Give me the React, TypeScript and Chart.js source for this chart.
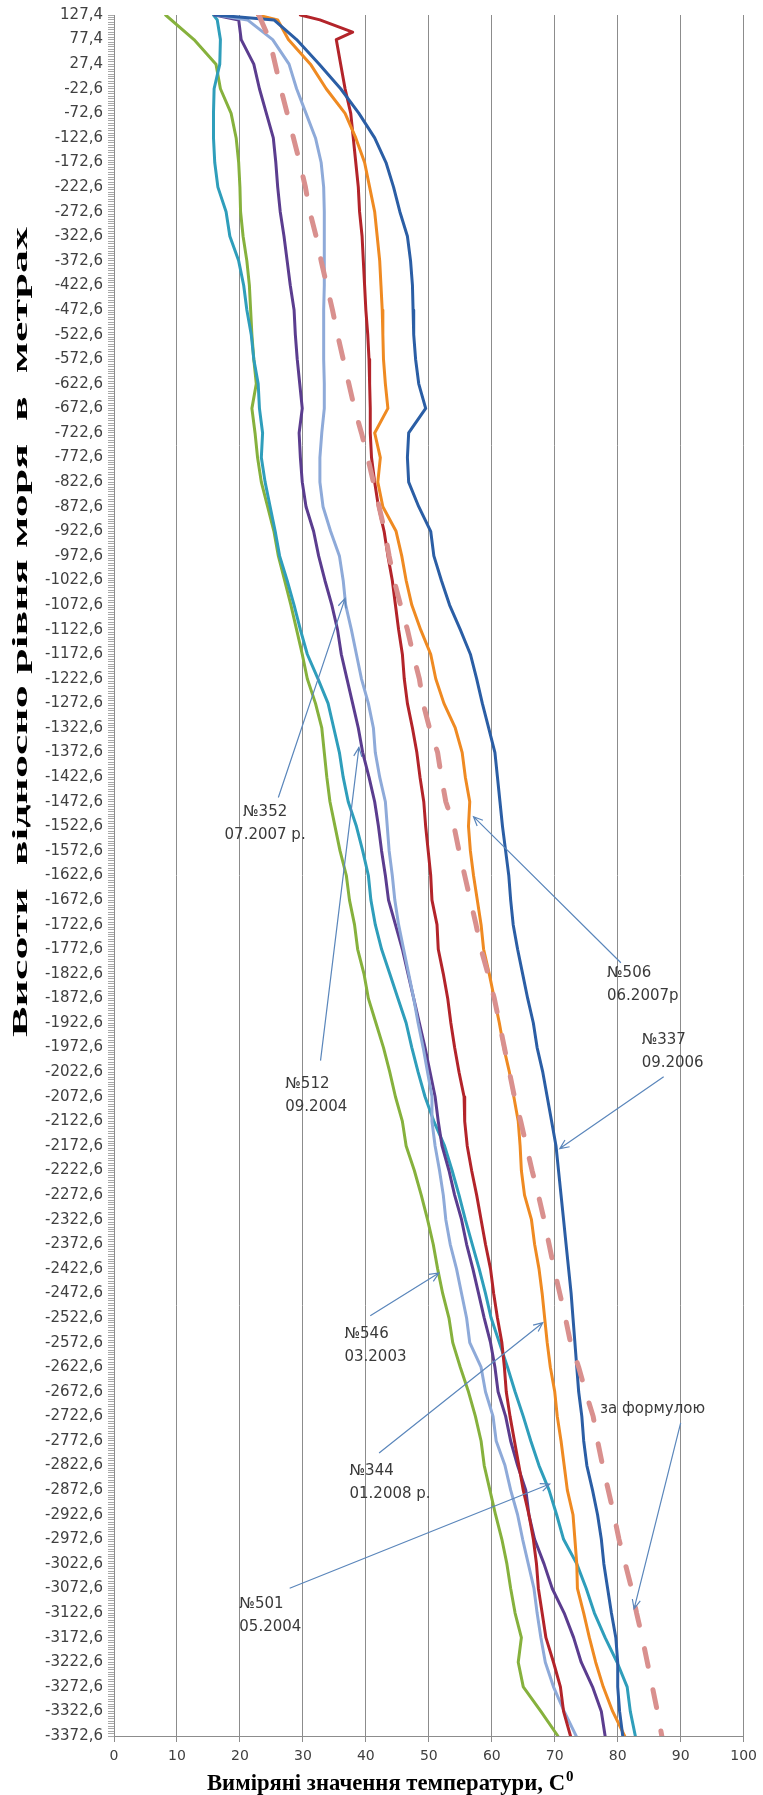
import React, { useEffect, useRef } from 'react';
import { Chart, registerables } from 'chart.js';

Chart.register(...registerables);

// Elevation (m) of the sampled rows; two extra rows near the top carry the first metres of some wells
const depthM = [
  127.4, 117.4, 92.4, 77.4, 27.4, -22.6, -72.6, -122.6, -172.6, -222.6, -272.6, -322.6, -372.6,
  -422.6, -472.6, -522.6, -572.6, -622.6, -672.6, -722.6, -772.6, -822.6, -872.6, -922.6, -972.6,
  -1022.6, -1072.6, -1122.6, -1172.6, -1222.6, -1272.6, -1322.6, -1372.6, -1422.6, -1472.6, -1522.6,
  -1572.6, -1622.6, -1672.6, -1722.6, -1772.6, -1822.6, -1872.6, -1922.6, -1972.6, -2022.6, -2072.6,
  -2122.6, -2172.6, -2222.6, -2272.6, -2322.6, -2372.6, -2422.6, -2472.6, -2522.6, -2572.6, -2622.6,
  -2672.6, -2722.6, -2772.6, -2822.6, -2872.6, -2922.6, -2972.6, -3022.6, -3072.6, -3122.6, -3172.6,
  -3222.6, -3272.6, -3322.6, -3372.6,
];

// Labelled elevation ticks (every 50 m)
const yTickLabels = depthM.filter((_, i) => i !== 1 && i !== 2);

// Measured temperatures, °C
const well546 = [8.2, null, null, 12.7, 16.2, 16.9, 18.6, 19.4, 19.8, 20.0, 20.1, 20.5, 21.1, 21.5, 21.7, 21.9, 22.2, 22.6, 21.9, 22.4, 22.8, 23.4, 24.4, 25.4, 26.1, 27.1, 28.1, 29.0, 29.9, 30.7, 32.0, 33.0, 33.4, 33.8, 34.3, 35.1, 35.9, 36.9, 37.4, 38.2, 38.7, 39.7, 40.4, 41.6, 42.8, 43.8, 44.7, 45.8, 46.4, 47.7, 48.8, 49.8, 50.7, 51.4, 52.2, 53.2, 53.8, 55.0, 56.3, 57.4, 58.3, 58.8, 59.7, 60.6, 61.6, 62.4, 63.0, 63.7, 64.7, 64.2, 65.0, 67.8, 70.5];
const well501 = [15.8, 16.4, null, 16.9, 16.8, 15.9, 15.8, 15.8, 16.0, 16.5, 17.8, 18.4, 19.8, 20.6, 21.1, 21.8, 22.2, 22.9, 23.1, 23.6, 23.4, 24.0, 24.8, 25.6, 26.3, 27.5, 28.6, 29.6, 30.7, 32.4, 34.0, 34.9, 35.8, 36.4, 37.2, 38.5, 39.5, 40.4, 40.8, 41.5, 42.5, 43.8, 45.1, 46.4, 47.3, 48.3, 49.4, 50.8, 52.5, 53.7, 54.8, 55.8, 56.9, 58.0, 59.0, 59.9, 61.2, 62.5, 63.7, 65.0, 66.2, 67.5, 69.1, 70.3, 71.4, 73.5, 75.0, 76.3, 78.0, 79.9, 81.5, 82.0, 82.8];
const well512 = [16.0, 19.8, null, 20.2, 22.2, 23.1, 24.2, 25.3, 25.7, 26.0, 26.4, 27.0, 27.5, 28.0, 28.6, 28.8, 29.1, 29.5, 29.9, 29.4, 29.6, 29.9, 30.5, 31.7, 32.5, 33.5, 34.6, 35.5, 36.1, 37.0, 37.9, 38.8, 39.5, 40.5, 41.4, 42.0, 42.5, 43.1, 43.6, 44.7, 45.8, 46.7, 47.6, 48.5, 49.4, 50.2, 51.0, 51.5, 52.1, 53.2, 54.1, 55.2, 56.0, 57.0, 57.9, 58.8, 59.8, 60.5, 61.0, 62.2, 63.0, 64.1, 65.4, 65.9, 66.8, 68.3, 69.6, 71.5, 73.0, 74.2, 76.0, 77.4, 78.0];
const well352 = [16.3, 21.2, null, 25.2, 27.8, 29.0, 30.5, 32.0, 32.9, 33.3, 33.4, 33.4, 33.4, 33.4, 33.3, 33.3, 33.3, 33.4, 33.4, 33.0, 32.7, 32.7, 33.2, 34.4, 35.8, 36.4, 36.8, 37.7, 38.5, 39.3, 40.4, 41.2, 41.5, 42.2, 43.1, 43.4, 43.7, 44.2, 44.6, 45.2, 46.0, 46.8, 47.6, 48.3, 49.1, 49.8, 50.5, 50.5, 51.0, 51.7, 52.3, 52.7, 53.4, 54.4, 55.2, 56.0, 56.5, 58.3, 59.0, 60.2, 60.7, 62.1, 63.0, 64.1, 64.9, 65.8, 66.7, 67.2, 67.8, 68.5, 69.8, 71.5, 73.4];
const well344 = [29.6, 32.7, 37.9, 35.3, 36.0, 36.7, 37.6, 38.0, 38.4, 38.8, 39.0, 39.4, 39.6, 39.8, 40.0, 40.3, 40.5, 40.6, 40.7, 40.7, 40.9, 41.4, 42.0, 42.9, 43.5, 44.2, 44.7, 45.2, 45.8, 46.1, 46.6, 47.4, 48.1, 48.6, 49.2, 49.5, 49.9, 50.3, 50.5, 51.3, 51.5, 52.3, 53.0, 53.5, 54.1, 54.8, 55.6, 55.7, 56.1, 56.8, 57.6, 58.3, 59.0, 59.8, 60.3, 60.9, 61.6, 62.0, 62.3, 62.9, 63.6, 64.3, 65.0, 65.9, 66.6, 67.1, 67.4, 68.0, 68.6, 69.8, 70.9, 71.4, 72.5];
const well506 = [22.8, 26.0, null, 27.7, 31.2, 33.7, 36.7, 38.4, 39.8, 40.6, 41.4, 41.8, 42.2, 42.4, 42.6, 42.7, 42.8, 43.1, 43.5, 41.4, 42.3, 41.9, 42.7, 44.8, 45.7, 46.4, 47.3, 48.7, 50.3, 51.1, 52.4, 54.2, 55.3, 55.8, 56.5, 56.3, 56.6, 57.1, 57.7, 58.3, 58.7, 59.6, 60.4, 61.2, 61.9, 62.8, 63.5, 64.2, 64.5, 64.7, 65.2, 66.3, 66.8, 67.5, 68.0, 68.4, 68.8, 69.3, 70.0, 70.4, 71.0, 71.5, 72.0, 72.9, 73.2, 73.5, 73.6, 74.6, 75.5, 76.5, 77.7, 79.2, 81.1];
const well337 = [16.2, 25.4, null, 29.0, 32.6, 36.0, 38.9, 41.4, 43.2, 44.4, 45.4, 46.6, 47.1, 47.4, 47.5, 47.6, 47.9, 48.4, 49.5, 46.8, 46.6, 46.8, 48.4, 50.3, 50.8, 52.0, 53.3, 55.0, 56.6, 57.6, 58.5, 59.5, 60.5, 60.9, 61.3, 61.7, 62.2, 62.7, 63.0, 63.4, 64.1, 64.9, 65.7, 66.6, 67.2, 68.1, 68.8, 69.5, 70.2, 70.6, 71.0, 71.4, 71.8, 72.2, 72.6, 72.9, 73.2, 73.5, 73.8, 74.3, 74.6, 75.1, 76.0, 76.8, 77.4, 77.8, 78.4, 79.0, 79.7, 80.0, 80.0, 80.3, 80.8];
const byFormula = [23.0, null, null, 24.7, 25.6, 26.5, 27.5, 28.5, 29.5, 30.4, 31.1, 32.1, 32.9, 33.8, 34.7, 35.5, 36.4, 37.3, 38.2, 39.3, 40.3, 41.2, 42.1, 43.0, 43.7, 44.5, 45.5, 46.6, 47.5, 48.5, 49.1, 50.1, 51.4, 52.0, 52.7, 54.0, 54.8, 55.7, 56.6, 57.5, 58.3, 59.4, 60.4, 61.2, 62.0, 62.8, 63.6, 64.6, 65.5, 66.4, 67.4, 68.3, 69.1, 69.9, 70.8, 71.7, 72.5, 73.8, 74.9, 76.1, 76.8, 77.6, 78.5, 79.4, 80.2, 81.2, 82.2, 83.0, 83.9, 84.7, 85.5, 86.3, 87.0];

const seriesNames = ['за формулою', '№546 03.2003', '№501 05.2004', '№512 09.2004', '№352 07.2007 р.', '№344 01.2008 р.', '№506 06.2007р', '№337 09.2006'];
const seriesValues = [byFormula, well546, well501, well512, well352, well344, well506, well337];
const seriesColors = ['#d9908e', '#86b13d', '#2f9ebb', '#5b3d8f', '#8eaad9', '#b3242a', '#ef8a22', '#2b5ea5'];

// Annotations (data coordinates: temperature, elevation)
const noteLines = [
  ['№352', '07.2007 р.'],
  ['№512', '09.2004'],
  ['№506', '06.2007р'],
  ['№337', '09.2006'],
  ['№546', '03.2003'],
  ['№344', '01.2008 р.'],
  ['№501', '05.2004'],
  ['за формулою'],
];
const noteAlign = ['center', 'left', 'left', 'left', 'left', 'left', 'left', 'left'];
const noteX = [24.0, 27.2, 78.3, 83.8, 36.6, 37.4, 19.9, 77.2];
const noteY = [-1494, -2046, -1822, -1958, -2555, -2833, -3104, -2707];
const arrowFromX = [26.1, 32.8, 80.5, 87.3, 40.7, 42.1, 27.9, 90.0];
const arrowFromY = [-1464, -1999, -1800, -2032, -2518, -2797, -3072, -2736];
const arrowToX = [36.7, 38.9, 57.1, 70.8, 51.6, 68.1, 69.2, 82.6];
const arrowToY = [-1059, -1362, -1503, -2178, -2431, -2532, -2860, -3114];

const xTitle = 'Виміряні значення температури, C';
const xTitleSup = '0';
const yTitle = 'Висоти  відносно рівня моря  в  метрах';

const fmt = (v: number) => v.toFixed(1).replace('.', ',');

const overlayPlugin = {
  id: 'overlay',
  afterDraw(chart: any) {
    const { ctx } = chart;
    const xs = chart.scales.x;
    const ys = chart.scales.y;
    ctx.save();
    // annotations
    noteLines.forEach((lines, i) => {
      const tx = xs.getPixelForValue(noteX[i]);
      const ty = ys.getPixelForValue(noteY[i]);
      ctx.font = '15px "DejaVu Sans"';
      ctx.fillStyle = '#3a3a3a';
      ctx.textAlign = noteAlign[i] as CanvasTextAlign;
      ctx.textBaseline = 'middle';
      lines.forEach((t, j) => ctx.fillText(t, tx, ty + j * 23));
      const x0 = xs.getPixelForValue(arrowFromX[i]);
      const y0 = ys.getPixelForValue(arrowFromY[i]);
      const x1 = xs.getPixelForValue(arrowToX[i]);
      const y1 = ys.getPixelForValue(arrowToY[i]);
      const a = Math.atan2(y1 - y0, x1 - x0);
      const L = 10;
      const A = 0.42;
      ctx.strokeStyle = '#5a86bb';
      ctx.lineWidth = 1.2;
      ctx.beginPath();
      ctx.moveTo(x0, y0);
      ctx.lineTo(x1, y1);
      ctx.moveTo(x1 - L * Math.cos(a - A), y1 - L * Math.sin(a - A));
      ctx.lineTo(x1, y1);
      ctx.lineTo(x1 - L * Math.cos(a + A), y1 - L * Math.sin(a + A));
      ctx.stroke();
    });
    // x title
    ctx.fillStyle = '#000';
    ctx.textBaseline = 'alphabetic';
    ctx.textAlign = 'left';
    ctx.font = 'bold 23px "Liberation Serif"';
    const w = ctx.measureText(xTitle).width;
    const target = 358;
    const sx = Math.min(1, target / w);
    const left = 207;
    const base = 1790;
    ctx.save();
    ctx.translate(left, base);
    ctx.scale(sx, 1);
    ctx.fillText(xTitle, 0, 0);
    ctx.restore();
    ctx.font = 'bold 15px "Liberation Serif"';
    ctx.fillText(xTitleSup, left + w * sx + 1, base - 9);
    // y title
    ctx.save();
    ctx.translate(21, 632);
    ctx.rotate(-Math.PI / 2);
    ctx.font = 'bold 22px "Liberation Serif"';
    const wy = ctx.measureText(yTitle).width;
    ctx.scale(810 / wy, 1);
    ctx.textAlign = 'center';
    ctx.textBaseline = 'middle';
    ctx.fillText(yTitle, 0, 0);
    ctx.restore();
    ctx.restore();
  },
};

export default function App() {
  const ref = useRef<HTMLCanvasElement | null>(null);

  useEffect(() => {
    document.body.style.margin = '0';
    const canvas = ref.current;
    if (!canvas) return;
    const labelSet = new Set(yTickLabels.map((v) => v.toFixed(1)));

    const datasets = seriesValues.map((vals, s) => ({
      label: seriesNames[s],
      data: depthM
        .map((d, i) => (vals[i] == null ? null : { x: vals[i] as number, y: d }))
        .filter((p) => p !== null),
      showLine: true,
      borderColor: seriesColors[s],
      backgroundColor: seriesColors[s],
      borderWidth: s === 0 ? 5 : 3,
      borderDash: s === 0 ? [18, 24] : [],
      borderCapStyle: 'round',
      borderJoinStyle: 'round',
      pointRadius: 0,
      tension: 0,
      fill: false,
      order: s === 0 ? 0 : 10 - s,
    }));

    const chart = new Chart(canvas, {
      type: 'scatter',
      data: { datasets } as any,
      options: {
        responsive: false,
        animation: false,
        devicePixelRatio: 1,
        layout: { padding: { left: 0, right: 12, top: 15, bottom: 0 } },
        plugins: { legend: { display: false }, tooltip: { enabled: false } },
        scales: {
          x: {
            type: 'linear',
            position: 'bottom',
            min: 0,
            max: 100,
            afterFit: (scale: any) => {
              scale.height = 59;
            },
            ticks: {
              stepSize: 10,
              padding: 6,
              color: '#404040',
              font: { family: 'DejaVu Sans', size: 14 },
              maxRotation: 0,
            },
            grid: { color: '#8c8c8c', lineWidth: 1, drawTicks: true, tickLength: 6, tickColor: '#8c8c8c' },
            border: { display: true, color: '#8c8c8c', width: 1 },
          },
          y: {
            type: 'linear',
            min: -3372.6,
            max: 127.4,
            afterFit: (scale: any) => {
              scale.width = 114;
            },
            afterBuildTicks: (scale: any) => {
              const t: { value: number }[] = [];
              const top = yTickLabels[0];
              const bottom = yTickLabels[yTickLabels.length - 1];
              const n = Math.round((top - bottom) / 5);
              for (let i = 0; i <= n; i++) t.push({ value: Math.round((top - i * 5) * 10) / 10 });
              scale.ticks = t;
            },
            ticks: {
              autoSkip: false,
              padding: 5,
              color: '#404040',
              font: { family: 'DejaVu Sans', size: 15 },
              callback: (value: any) => {
                const k = Number(value).toFixed(1);
                return labelSet.has(k) ? fmt(Number(value)) : '';
              },
            },
            grid: { drawOnChartArea: false, drawTicks: true, tickLength: 6, color: '#a8a8a8', tickColor: '#a8a8a8' },
            border: { display: true, color: '#8c8c8c', width: 1 },
          },
        },
      } as any,
      plugins: [overlayPlugin],
    });
    return () => chart.destroy();
  }, []);

  return (
    <div style={{ width: 763, height: 1795, background: '#fff' }}>
      <canvas ref={ref} width={763} height={1795} style={{ display: 'block' }} />
    </div>
  );
}
